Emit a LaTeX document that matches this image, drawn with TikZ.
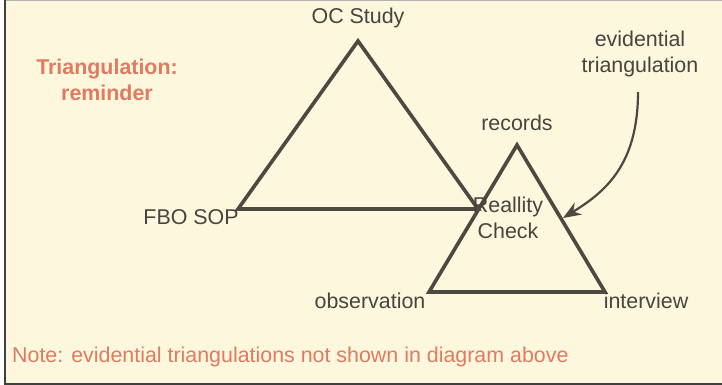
\documentclass[tikz,border=0pt]{standalone}
\usepackage{fontspec}
\setmainfont{Liberation Sans}
\usetikzlibrary{arrows.meta}
\definecolor{cream}{RGB}{253,247,221}
\definecolor{ink}{RGB}{77,72,64}
\definecolor{txt}{RGB}{72,68,62}
\definecolor{accent}{RGB}{225,122,96}
\tikzset{
  lbl/.style={inner sep=0pt, text=txt, font=\fontsize{21.4}{26}\selectfont, align=center},
  note/.style={inner sep=0pt, text=accent, font=\fontsize{21.4}{26}\selectfont},
  tri/.style={draw=ink, line width=3.6pt, line join=miter},
  pointer/.style={draw=ink, line width=2.2pt, -{Stealth[length=18pt,width=14pt]}}
}
\begin{document}
\begin{tikzpicture}[x=1pt,y=-1pt]
\useasboundingbox (0,0) rectangle (722,385);
\fill[white] (0,0) rectangle (722,385);
\fill[cream] (4,1) rectangle (722,383);
\draw[gray!60, line width=1.2pt] (4,0.6) -- (722,0.6);
\draw[black!75, line width=2pt] (5,0) -- (5,385);
\draw[black!75, line width=2pt] (4,383.5) -- (722,383.5);

% coordinates of triangle corners
\coordinate (ocv) at (358,41);
\coordinate (fbov) at (238,209);
\coordinate (rcv) at (478,209);
\coordinate (recv) at (517,145);
\coordinate (obsv) at (429,292);
\coordinate (intv) at (605,292);

\draw[tri] (fbov) -- (ocv) -- (rcv) -- cycle;
\draw[tri] (obsv) -- (recv) -- (intv) -- cycle;

% labels
\node[lbl] (oc) at (358,18) {OC Study};
\node[lbl] (fbo) at (191,217) {FBO SOP};
\node[lbl] (rec) at (517,123) {records};
\node[lbl] (rc) at (508,218) {Reallity\\Check};
\node[lbl] (obs) at (370,301) {observation};
\node[lbl] (int) at (646,301) {interview};
\node[lbl] (evi) at (640,54) {evidential\\triangulation};
\node[note, font=\bfseries\fontsize{21.4}{26}\selectfont, align=center] (title) at (107,80) {Triangulation:\\reminder};
\node[note, anchor=west] (foot) at (12,357) {Note: evidential triangulations not shown in diagram above};

\coordinate (arrs) at (638,92);
\draw[pointer] (arrs) .. controls (638,165) and (605,192) .. (563,218);
\end{tikzpicture}
\end{document}
